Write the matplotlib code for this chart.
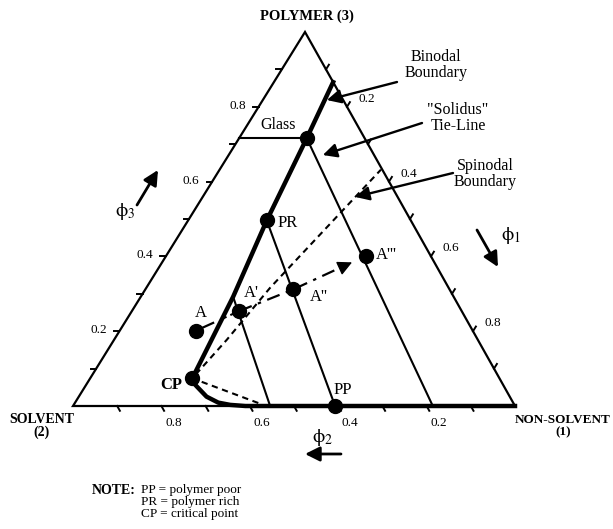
import numpy as np
import matplotlib
matplotlib.use("Agg")
import matplotlib.pyplot as plt

plt.rcParams['font.family'] = ['Liberation Serif', 'DejaVu Serif']
plt.rcParams['mathtext.fontset'] = 'stix'

# Compositions are given as (phi1 = non-solvent, phi3 = polymer); phi2 = 1 - phi1 - phi3
binodal_phi1 = [0.134, 0.153, 0.178, 0.209, 0.231, 0.240, 0.253, 0.289, 0.324, 0.354, 0.390, 1.000]
binodal_phi3 = [0.866, 0.716, 0.496, 0.292, 0.074, 0.062, 0.052, 0.025, 0.009, 0.003, 0.000, 0.000]

spinodal_phi1 = [0.415, 0.231, 0.255, 0.280, 0.365]
spinodal_phi3 = [0.008, 0.074, 0.177, 0.316, 0.632]

tie_start_phi1 = [0.153, 0.178, 0.209]
tie_start_phi3 = [0.716, 0.496, 0.292]
tie_end_phi1 = [0.814, 0.593, 0.446]
tie_end_phi3 = [0.000, 0.000, 0.000]

glass_phi1 = 0.153
glass_phi3 = 0.716

point_labels = ['PR', 'PP', 'CP', 'A', "A'", "A''", "A'''"]
point_phi1 = [0.178, 0.593, 0.231, 0.172, 0.243, 0.335, 0.452]
point_phi3 = [0.496, 0.000, 0.074, 0.201, 0.254, 0.312, 0.401]

tick_values = [0.1, 0.2, 0.3, 0.4, 0.5, 0.6, 0.7, 0.8, 0.9]
tick_labels = ['0.2', '0.4', '0.6', '0.8']

# Triangle corners on the canvas: non-solvent (1), solvent (2), polymer (3)
V1 = np.array([515.0, 406.0])
V2 = np.array([73.0, 406.0])
V3 = np.array([305.0, 32.0])


def tern(phi1, phi3):
    phi1 = np.asarray(phi1, dtype=float)
    phi3 = np.asarray(phi3, dtype=float)
    phi2 = 1.0 - phi1 - phi3
    x = phi1 * V1[0] + phi2 * V2[0] + phi3 * V3[0]
    y = phi1 * V1[1] + phi2 * V2[1] + phi3 * V3[1]
    return x, y


fig = plt.figure(figsize=(6.13, 5.29), dpi=100)
ax = fig.add_axes([0, 0, 1, 1])
ax.set_xlim(0, 613)
ax.set_ylim(529, 0)
ax.axis('off')

K = 'black'

# Triangle frame
tx, ty = tern([1, 0, 0, 1], [0, 0, 1, 0])
ax.plot(tx, ty, color=K, lw=1.6, solid_joinstyle='miter', zorder=2)

# Ticks and tick labels
d_left = np.array([-1.0, 0.0])
d_right = (V3 - V2) / np.linalg.norm(V3 - V2)
d_bottom = (V1 - V3) / np.linalg.norm(V1 - V3)
tl = 5.5
for v in tick_values:
    # phi3 along the left edge
    x, y = tern(0.0, v)
    ax.plot([x, x + tl * d_left[0]], [y, y + tl * d_left[1]], color=K, lw=1.4)
    # phi1 along the right edge
    x, y = tern(v, 1.0 - v)
    ax.plot([x, x + tl * d_right[0]], [y, y + tl * d_right[1]], color=K, lw=1.4)
    # phi2 along the bottom edge
    x, y = tern(1.0 - v, 0.0)
    ax.plot([x, x + tl * d_bottom[0]], [y, y + tl * d_bottom[1]], color=K, lw=1.4)

for s in tick_labels:
    v = float(s)
    x, y = tern(0.0, v)
    ax.text(x - 21, y - 1, s, ha='center', va='center', fontsize=9.5)
    x, y = tern(v, 1.0 - v)
    ax.text(x + 20, y - 8, s, ha='center', va='center', fontsize=9.5)
    x, y = tern(1.0 - v, 0.0)
    ax.text(x + 12, y + 17, s, ha='center', va='center', fontsize=9.5)

# Tie-lines
for a1, a3, b1, b3 in zip(tie_start_phi1, tie_start_phi3, tie_end_phi1, tie_end_phi3):
    x, y = tern([a1, b1], [a3, b3])
    ax.plot(x, y, color=K, lw=1.5, zorder=3)

# Glass line to the polymer-solvent edge
x, y = tern([0.0, glass_phi1], [glass_phi3, glass_phi3])
ax.plot(x, y, color=K, lw=1.5, zorder=3)

# Binodal boundary
bx, by = tern(binodal_phi1, binodal_phi3)
ax.plot(bx, by, color=K, lw=3.2, solid_joinstyle='round', zorder=4)

# Spinodal boundary
sx, sy = tern(spinodal_phi1, spinodal_phi3)
ax.plot(sx, sy, color=K, lw=1.5, ls=(0, (3, 2.2)), zorder=3)

# Composition path A -> A' -> A'' -> A'''
pa = dict(zip(point_labels, zip(point_phi1, point_phi3)))
A = np.array(tern(*pa['A']))
A1 = np.array(tern(*pa["A'"]))
A2 = np.array(tern(*pa["A''"]))
A3 = np.array(tern(*pa["A'''"]))
stub = A + 0.40 * (A1 - A)
ax.plot([A[0], stub[0]], [A[1], stub[1]], color=K, lw=1.6, zorder=3)
p0 = A + 0.62 * (A1 - A)
ax.plot([p0[0], A1[0]], [p0[1], A1[1]], color=K, lw=1.5, ls=(0, (2, 2)), zorder=3)
tip = A2 + 0.81 * (A3 - A2)
ax.plot([A1[0], A2[0], tip[0] - 8], [A1[1], A2[1], tip[1] + 3.6], color=K, lw=1.6,
        ls=(0, (6, 3, 1.5, 3)), zorder=3)
ax.annotate('', xy=tip, xytext=A2 + 0.72 * (A3 - A2),
            arrowprops=dict(arrowstyle='-|>', color=K, lw=1.0, mutation_scale=22,
                            shrinkA=0, shrinkB=0), zorder=5)

# Labelled state points
px, py = tern(point_phi1, point_phi3)
ax.plot(px, py, 'o', color=K, ms=10, zorder=6)
gx, gy = tern(glass_phi1, glass_phi3)
ax.plot(gx, gy, 'o', color=K, ms=10, zorder=6)

label_offsets = {'PR': (21, 3, 'normal'), 'PP': (8, -16, 'normal'), 'CP': (-21, 7, 'bold'),
                 'A': (5, -18, 'normal'), "A'": (12, -18, 'normal'),
                 "A''": (25, 8, 'normal'), "A'''": (21, -1, 'normal')}
for name, x, y in zip(point_labels, px, py):
    dx, dy, w = label_offsets[name]
    ax.text(x + dx, y + dy, name, ha='center', va='center', fontsize=12, weight=w)

ax.text(278, 125, 'Glass', ha='center', va='center', fontsize=11.5)

# Callouts
def callout(text, txy, phi1, phi3, start):
    ax.text(txy[0], txy[1], text, ha='center', va='center', fontsize=11.5,
            linespacing=1.0)
    ax.annotate('', xy=tern(phi1, phi3), xytext=start,
                arrowprops=dict(arrowstyle='-|>', color=K, lw=1.7, mutation_scale=21,
                                shrinkA=0, shrinkB=0), zorder=7)

callout('Binodal\nBoundary', (436, 65), 0.145, 0.818, (397, 82))
callout('"Solidus"\nTie-Line', (458, 118), 0.213, 0.671, (422, 123))
callout('Spinodal\nBoundary', (485, 174), 0.345, 0.559, (453, 173))

# Vertex names
ax.text(307, 16, 'POLYMER (3)', ha='center', va='center', fontsize=10.5, weight='bold')
ax.text(42, 426, 'SOLVENT\n(2)', ha='center', va='center', fontsize=10, weight='bold',
        linespacing=1.0)
ax.text(563, 426, 'NON-SOLVENT\n(1)', ha='center', va='center', fontsize=9.5, weight='bold',
        linespacing=1.05)

# Axis direction arrows
arrow_kw = dict(arrowstyle='-|>', color=K, lw=2.0, mutation_scale=22, shrinkA=0, shrinkB=0)
ax.annotate('', xy=(158, 170), xytext=(137, 205), arrowprops=arrow_kw)
ax.text(125, 212, r'$\mathrm{ϕ}_3$', ha='center', va='center', fontsize=14)
ax.annotate('', xy=(498, 267), xytext=(477, 230), arrowprops=arrow_kw)
ax.text(511, 236, r'$\mathrm{ϕ}_1$', ha='center', va='center', fontsize=14)
ax.annotate('', xy=(305, 454), xytext=(341, 454), arrowprops=arrow_kw)
ax.text(323, 438, r'$\mathrm{ϕ}_2$', ha='center', va='center', fontsize=14)

# Note
ax.text(92, 490, 'NOTE:', ha='left', va='center', fontsize=10, weight='bold')
for i, s in enumerate(['PP = polymer poor', 'PR = polymer rich', 'CP = critical point']):
    ax.text(141, 490 + 12 * i, s, ha='left', va='center', fontsize=9.5)

fig.savefig('out.png', dpi=100)
